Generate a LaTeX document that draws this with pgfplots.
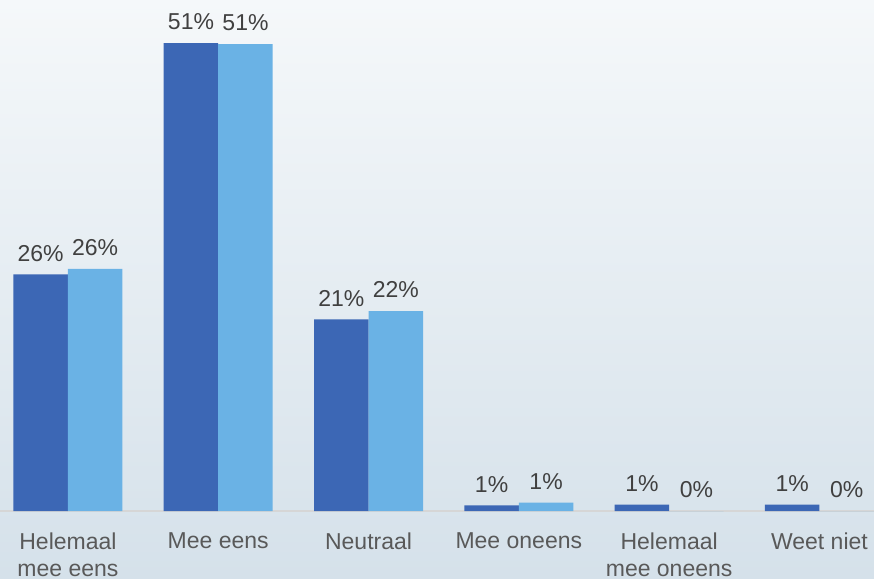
\documentclass[border=0pt]{standalone}
\usepackage{fontspec}
\setmainfont{Liberation Sans}
\usepackage{pgfplots}
\pgfplotsset{compat=1.18}
\usetikzlibrary{backgrounds}
\definecolor{darkb}{RGB}{60,103,181}
\definecolor{lightb}{RGB}{106,178,229}
\definecolor{bgtop}{RGB}{245,248,250}
\definecolor{bgbot}{RGB}{213,225,234}
\definecolor{baseln}{RGB}{214,214,214}
\definecolor{lbl}{RGB}{64,64,64}
\definecolor{tick}{RGB}{89,89,89}
\begin{document}
\begin{tikzpicture}
\begin{axis}[
  at={(0,0)}, anchor=south west,
  scale only axis, width=437pt, height=255.5pt,
  ybar=0pt, bar width=27.25pt,
  xmin=-0.452, xmax=5.363, ymin=0, ymax=55.7,
  axis y line=none, axis x line=bottom,
  axis line style={draw=baseln, line width=1pt, -},
  xtick={0,1,2,3,4,5},
  xticklabels={{Helemaal\\mee eens},{Mee eens},{Neutraal},{Mee oneens},{Helemaal\\mee oneens},{Weet niet}},
  xticklabel style={align=center, text=tick, font=\fontsize{11.5}{13.5}\selectfont, yshift=-7.5pt},
  major tick length=0pt,
  /pgf/number format/assume math mode=true,
  nodes near coords={\pgfmathprintnumber[fixed,precision=0]{\pgfplotspointmeta}\%},
  every node near coord/.append style={text=lbl, font=\fontsize{11.5}{13.5}\selectfont, yshift=3pt},
  clip=false,
]
\addplot[fill=darkb, draw=none] coordinates {(0,25.8) (1,51.0) (2,20.9) (3,0.6) (4,0.7) (5,0.7)};
\addplot[fill=lightb, draw=none] coordinates {(0,26.4) (1,50.9) (2,21.8) (3,0.9) (4,0) (5,0)};
\end{axis}
\begin{pgfonlayer}{background}
\shade[top color=bgtop, bottom color=bgbot] (0,-34pt) rectangle (437pt,255.5pt);
\end{pgfonlayer}
\pgfresetboundingbox
\useasboundingbox (0,-34pt) rectangle (437pt,255.5pt);
\end{tikzpicture}
\end{document}
